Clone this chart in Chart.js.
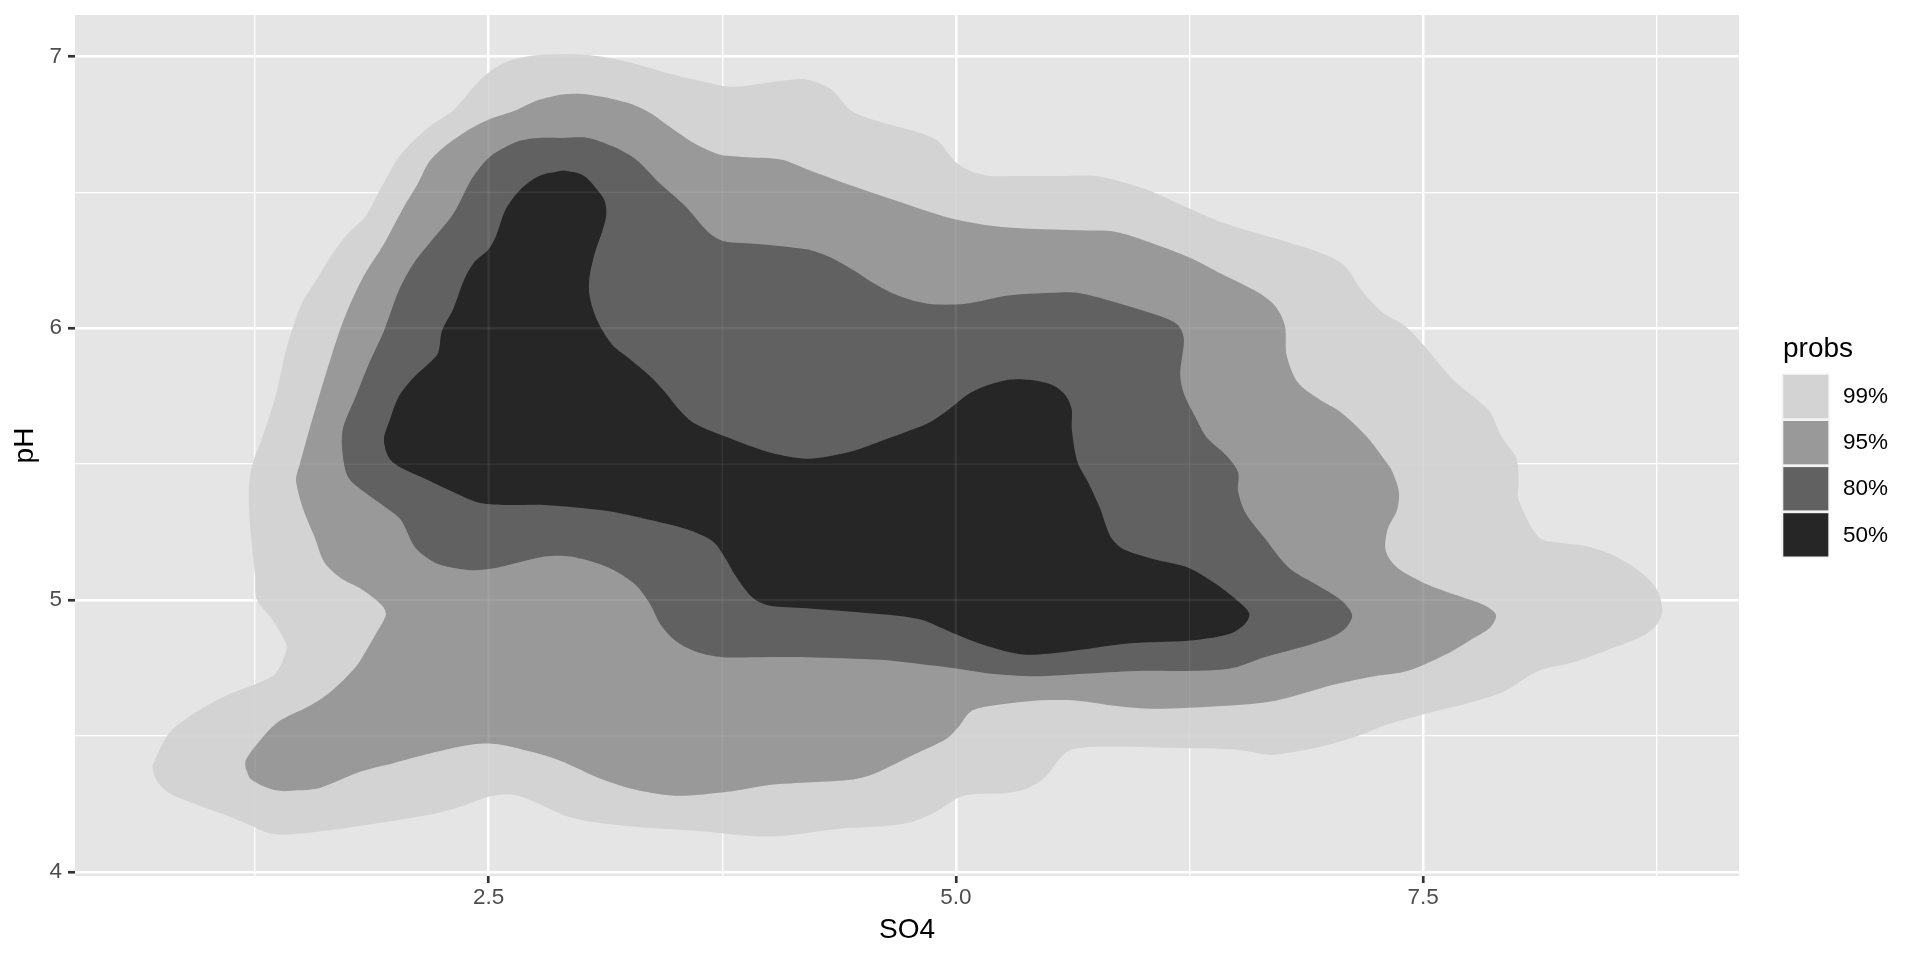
<!DOCTYPE html>
<html>
<head>
<meta charset="utf-8">
<title>pH vs SO4 density contours</title>
<script src="https://cdn.jsdelivr.net/npm/chart.js@4.4.1/dist/chart.umd.min.js"></script>
<style>
  html, body { margin: 0; padding: 0; background: #ffffff; }
  #wrap { width: 1920px; height: 960px; }
</style>
</head>
<body>
<div id="wrap"><canvas id="densityChart" width="1920" height="960"></canvas></div>
<script>
// tick values and labels
const xMajor = [2.5, 5.0, 7.5];
const xMinor = [1.25, 3.75, 6.25, 8.75];
const xTickLabels = ['2.5', '5.0', '7.5'];
const yMajor = [4, 5, 6, 7];
const yMinor = [4.5, 5.5, 6.5];
const yTickLabels = ['4', '5', '6', '7'];

// legend levels
const probs = ['99%', '95%', '80%', '50%'];

// contour outlines, [SO4, pH]
const contour99 = [
  [0.70,4.39],[0.79,4.51],[0.94,4.59],[1.10,4.65],[1.25,4.69],[1.36,4.73],[1.42,4.82],[1.41,4.85],
  [1.33,4.94],[1.26,5.00],[1.25,5.09],[1.22,5.31],[1.22,5.44],[1.25,5.53],[1.27,5.56],[1.36,5.75],
  [1.42,5.93],[1.50,6.09],[1.59,6.19],[1.67,6.28],[1.75,6.35],[1.84,6.41],[1.92,6.51],[2.01,6.62],
  [2.10,6.69],[2.20,6.75],[2.31,6.80],[2.45,6.91],[2.54,6.96],[2.64,6.99],[2.77,7.005],[3.03,7.005],
  [3.24,6.98],[3.45,6.94],[3.63,6.91],[3.76,6.89],[3.86,6.89],[4.07,6.91],[4.20,6.915],[4.33,6.88],
  [4.44,6.80],[4.59,6.76],[4.80,6.72],[4.90,6.69],[5.00,6.61],[5.07,6.58],[5.18,6.56],[5.33,6.56],
  [5.59,6.56],[5.75,6.56],[5.88,6.54],[6.02,6.51],[6.25,6.44],[6.42,6.39],[6.71,6.33],[6.94,6.28],
  [7.08,6.23],[7.17,6.14],[7.28,6.06],[7.40,6.01],[7.50,5.94],[7.66,5.81],[7.80,5.73],[7.86,5.69],
  [7.92,5.60],[8.00,5.52],[8.01,5.43],[8.01,5.37],[8.12,5.23],[8.24,5.21],[8.36,5.20],[8.50,5.17],
  [8.65,5.11],[8.75,5.04],[8.78,4.96],[8.75,4.91],[8.68,4.87],[8.50,4.82],[8.30,4.77],[8.12,4.74],
  [7.92,4.66],[7.68,4.61],[7.50,4.58],[7.30,4.54],[7.15,4.50],[6.95,4.46],[6.80,4.44],[6.68,4.43],
  [6.50,4.45],[6.24,4.455],[5.77,4.46],[5.62,4.45],[5.56,4.42],[5.48,4.35],[5.39,4.31],[5.27,4.29],
  [5.04,4.28],[4.89,4.22],[4.77,4.185],[4.59,4.167],[4.39,4.16],[4.00,4.13],[3.64,4.15],[3.22,4.17],
  [2.94,4.20],[2.66,4.28],[2.52,4.28],[2.35,4.24],[2.18,4.21],[1.82,4.17],[1.48,4.14],[1.34,4.14],
  [1.23,4.17],[1.09,4.21],[0.93,4.25],[0.79,4.29],[0.72,4.34],[0.70,4.39]
];
const contour95 = [
  [1.20,4.38],[1.23,4.34],[1.36,4.30],[1.48,4.30],[1.60,4.31],[1.82,4.37],[1.99,4.40],[2.21,4.44],
  [2.42,4.47],[2.55,4.47],[2.74,4.44],[2.88,4.41],[3.11,4.34],[3.30,4.30],[3.50,4.28],[3.78,4.295],
  [4.00,4.32],[4.23,4.33],[4.45,4.34],[4.56,4.36],[4.77,4.43],[4.95,4.49],[5.01,4.53],[5.08,4.59],
  [5.18,4.61],[5.42,4.63],[5.65,4.63],[5.86,4.61],[6.06,4.60],[6.42,4.61],[6.71,4.63],[7.03,4.69],
  [7.24,4.72],[7.42,4.74],[7.65,4.81],[7.77,4.86],[7.86,4.90],[7.89,4.945],[7.83,4.98],[7.71,5.01],
  [7.53,5.055],[7.36,5.12],[7.30,5.18],[7.31,5.26],[7.36,5.33],[7.37,5.40],[7.33,5.48],[7.30,5.51],
  [7.20,5.60],[7.06,5.69],[6.94,5.74],[6.83,5.80],[6.77,5.90],[6.76,6.01],[6.71,6.08],[6.62,6.13],
  [6.42,6.20],[6.25,6.26],[6.02,6.32],[5.85,6.355],[5.65,6.36],[5.28,6.37],[5.00,6.40],[4.72,6.46],
  [4.46,6.52],[4.22,6.58],[4.07,6.62],[3.86,6.63],[3.73,6.64],[3.60,6.68],[3.45,6.75],[3.37,6.79],
  [3.24,6.83],[3.03,6.86],[2.90,6.86],[2.77,6.84],[2.64,6.80],[2.51,6.77],[2.37,6.72],[2.25,6.66],
  [2.18,6.61],[2.12,6.53],[2.05,6.45],[1.94,6.31],[1.83,6.19],[1.73,6.04],[1.66,5.90],[1.58,5.72],
  [1.49,5.50],[1.47,5.44],[1.51,5.33],[1.57,5.23],[1.62,5.14],[1.71,5.08],[1.82,5.04],[1.93,4.98],
  [1.95,4.945],[1.90,4.88],[1.85,4.82],[1.79,4.755],[1.65,4.66],[1.54,4.61],[1.37,4.55],[1.26,4.47],
  [1.20,4.41],[1.20,4.38]
];
const contour80 = [
  [2.90,6.70],[3.03,6.70],[3.16,6.67],[3.29,6.62],[3.42,6.53],[3.55,6.45],[3.68,6.35],[3.76,6.32],
  [3.94,6.31],[4.20,6.29],[4.33,6.26],[4.46,6.21],[4.56,6.165],[4.69,6.12],[4.85,6.09],[5.05,6.09],
  [5.28,6.12],[5.51,6.13],[5.65,6.13],[5.88,6.09],[6.11,6.04],[6.19,6.01],[6.22,5.96],[6.20,5.83],
  [6.22,5.76],[6.28,5.675],[6.34,5.60],[6.45,5.53],[6.51,5.47],[6.51,5.40],[6.55,5.32],[6.65,5.23],
  [6.78,5.12],[6.92,5.06],[7.06,5.00],[7.12,4.945],[7.09,4.90],[7.03,4.87],[6.89,4.835],[6.65,4.79],
  [6.48,4.75],[6.30,4.74],[6.00,4.74],[5.71,4.73],[5.42,4.72],[5.18,4.73],[4.98,4.75],[4.74,4.77],
  [4.60,4.78],[4.20,4.79],[3.92,4.79],[3.75,4.79],[3.61,4.81],[3.50,4.85],[3.42,4.91],[3.36,4.99],
  [3.28,5.06],[3.14,5.12],[2.94,5.16],[2.80,5.16],[2.55,5.12],[2.41,5.11],[2.24,5.13],[2.16,5.16],
  [2.10,5.20],[2.03,5.295],[1.95,5.34],[1.83,5.40],[1.75,5.45],[1.72,5.53],[1.72,5.63],[1.79,5.75],
  [1.86,5.87],[1.94,5.99],[2.02,6.14],[2.10,6.24],[2.18,6.31],[2.31,6.42],[2.41,6.55],[2.49,6.62],
  [2.56,6.655],[2.67,6.69],[2.77,6.70],[2.90,6.70]
];
const contour50 = [
  [2.90,6.58],[2.77,6.56],[2.67,6.51],[2.59,6.435],[2.54,6.34],[2.50,6.29],[2.42,6.24],[2.37,6.18],
  [2.31,6.07],[2.25,5.99],[2.23,5.91],[2.18,5.87],[2.10,5.82],[2.02,5.75],[1.97,5.66],[1.94,5.59],
  [1.97,5.52],[2.05,5.48],[2.18,5.44],[2.27,5.41],[2.44,5.36],[2.58,5.35],[2.80,5.35],[3.11,5.33],
  [3.33,5.30],[3.56,5.26],[3.70,5.215],[3.77,5.15],[3.82,5.09],[3.91,5.01],[4.00,4.98],[4.20,4.97],
  [4.48,4.955],[4.80,4.93],[4.98,4.88],[5.15,4.835],[5.36,4.80],[5.59,4.81],[5.92,4.84],[6.24,4.85],
  [6.36,4.86],[6.48,4.88],[6.55,4.915],[6.57,4.95],[6.52,4.99],[6.39,5.06],[6.24,5.12],[6.06,5.15],
  [5.89,5.19],[5.83,5.23],[5.80,5.28],[5.77,5.34],[5.71,5.43],[5.65,5.51],[5.62,5.63],[5.62,5.70],
  [5.59,5.75],[5.52,5.79],[5.39,5.81],[5.28,5.81],[5.13,5.78],[5.05,5.75],[4.96,5.70],[4.85,5.65],
  [4.70,5.61],[4.64,5.595],[4.46,5.55],[4.33,5.53],[4.20,5.52],[4.02,5.54],[3.81,5.59],[3.60,5.65],
  [3.52,5.70],[3.45,5.76],[3.37,5.82],[3.24,5.895],[3.16,5.94],[3.08,6.03],[3.04,6.12],[3.04,6.19],
  [3.07,6.28],[3.11,6.36],[3.13,6.42],[3.12,6.47],[3.08,6.51],[3.03,6.55],[2.98,6.57],[2.90,6.58]
];

const fillColors = ['#D3D3D3', '#999999', '#616161', '#262626'];
const FONT = '"Liberation Sans", Arial, Helvetica, sans-serif';

function toPoints(arr) {
  return arr.map(function(p) { return { x: p[0], y: p[1] }; });
}

function isMajor(list, v) {
  return list.some(function(m) { return Math.abs(m - v) < 1e-6; });
}

// faint grid lines showing through the filled areas
const gridOverlay = {
  id: 'gridOverlay',
  afterDatasetsDraw(chart) {
    const ctx = chart.ctx;
    const area = chart.chartArea;
    const xs = chart.scales.x, ys = chart.scales.y;
    ctx.save();
    ctx.strokeStyle = 'rgba(255,255,255,0.07)';
    xs.ticks.forEach(function(t) {
      const px = xs.getPixelForValue(t.value);
      ctx.lineWidth = isMajor(xMajor, t.value) ? 2.5 : 1.3;
      ctx.beginPath(); ctx.moveTo(px, area.top); ctx.lineTo(px, area.bottom); ctx.stroke();
    });
    ys.ticks.forEach(function(t) {
      const py = ys.getPixelForValue(t.value);
      ctx.lineWidth = isMajor(yMajor, t.value) ? 2.5 : 1.3;
      ctx.beginPath(); ctx.moveTo(area.left, py); ctx.lineTo(area.right, py); ctx.stroke();
    });
    ctx.restore();
  }
};

// ggplot style legend on the right
const probsLegend = {
  id: 'probsLegend',
  afterDraw(chart) {
    const ctx = chart.ctx;
    ctx.save();
    ctx.fillStyle = '#000000';
    ctx.font = '28px ' + FONT;
    ctx.textAlign = 'left';
    ctx.textBaseline = 'alphabetic';
    ctx.fillText('probs', 1783, 357);
    probs.forEach(function(label, i) {
      const y = 373.5 + i * 46.1;
      ctx.fillStyle = '#F2F2F2';
      ctx.fillRect(1781.5, y, 48, 46.1);
      ctx.fillStyle = fillColors[i];
      ctx.fillRect(1783.3, y + 1.4, 45, 43.3);
      ctx.fillStyle = '#000000';
      ctx.font = '22.5px ' + FONT;
      ctx.textBaseline = 'middle';
      ctx.fillText(label, 1843, y + 23.5);
    });
    ctx.restore();
  }
};

const panelBg = {
  id: 'panelBg',
  beforeDraw(chart) {
    const a = chart.chartArea;
    chart.ctx.save();
    chart.ctx.fillStyle = '#E5E5E5';
    chart.ctx.fillRect(a.left, a.top, a.right - a.left, a.bottom - a.top);
    chart.ctx.restore();
  }
};

const contours = [contour99, contour95, contour80, contour50];

new Chart(document.getElementById('densityChart'), {
  type: 'line',
  data: {
    datasets: contours.map(function(c, i) {
      return {
        label: probs[i],
        data: toPoints(c),
        fill: 'shape',
        backgroundColor: fillColors[i],
        borderColor: 'rgba(0,0,0,0)',
        borderWidth: 0,
        pointRadius: 0,
        tension: 0.3,
        order: 4 - i
      };
    })
  },
  options: {
    responsive: false,
    animation: false,
    devicePixelRatio: 1,
    layout: { autoPadding: false, padding: { top: 15, right: 181, bottom: 0, left: 0 } },
    plugins: {
      legend: { display: false },
      tooltip: { enabled: false }
    },
    scales: {
      x: {
        type: 'linear',
        min: 0.287,
        max: 9.19,
        afterBuildTicks: function(axis) {
          axis.ticks = xMinor.concat(xMajor).sort(function(a, b) { return a - b; })
            .map(function(v) { return { value: v }; });
        },
        afterFit: function(axis) {
          axis.height = 84;
          axis.paddingLeft = 0; axis.paddingRight = 0;
          axis.paddingTop = 0; axis.paddingBottom = 0;
        },
        border: { display: false },
        grid: {
          color: '#FFFFFF',
          lineWidth: function(c) { return isMajor(xMajor, c.tick.value) ? 2.5 : 1.3; },
          tickColor: function(c) { return isMajor(xMajor, c.tick.value) ? '#333333' : 'rgba(0,0,0,0)'; },
          tickWidth: 2.7,
          tickLength: 7
        },
        ticks: {
          autoSkip: false,
          maxRotation: 0,
          padding: 1,
          color: '#4D4D4D',
          font: { family: FONT, size: 22.5 },
          callback: function(v) {
            const k = xMajor.findIndex(function(m) { return Math.abs(m - v) < 1e-6; });
            return k >= 0 ? xTickLabels[k] : '';
          }
        },
        title: {
          display: true,
          text: 'SO4',
          color: '#000000',
          font: { family: FONT, size: 28 },
          padding: { top: 0, bottom: 13 }
        }
      },
      y: {
        type: 'linear',
        min: 3.985,
        max: 7.152,
        afterBuildTicks: function(axis) {
          axis.ticks = yMinor.concat(yMajor).sort(function(a, b) { return a - b; })
            .map(function(v) { return { value: v }; });
        },
        afterFit: function(axis) {
          axis.width = 75;
          axis.paddingLeft = 0; axis.paddingRight = 0;
          axis.paddingTop = 0; axis.paddingBottom = 0;
        },
        border: { display: false },
        grid: {
          color: '#FFFFFF',
          lineWidth: function(c) { return isMajor(yMajor, c.tick.value) ? 2.5 : 1.3; },
          tickColor: function(c) { return isMajor(yMajor, c.tick.value) ? '#333333' : 'rgba(0,0,0,0)'; },
          tickWidth: 2.7,
          tickLength: 7
        },
        ticks: {
          autoSkip: false,
          padding: 6,
          color: '#4D4D4D',
          font: { family: FONT, size: 22.5 },
          callback: function(v) {
            const k = yMajor.findIndex(function(m) { return Math.abs(m - v) < 1e-6; });
            return k >= 0 ? yTickLabels[k] : '';
          }
        },
        title: {
          display: true,
          text: 'pH',
          color: '#000000',
          font: { family: FONT, size: 28 },
          padding: { top: 8, bottom: 0 }
        }
      }
    }
  },
  plugins: [panelBg, gridOverlay, probsLegend]
});
</script>
</body>
</html>
